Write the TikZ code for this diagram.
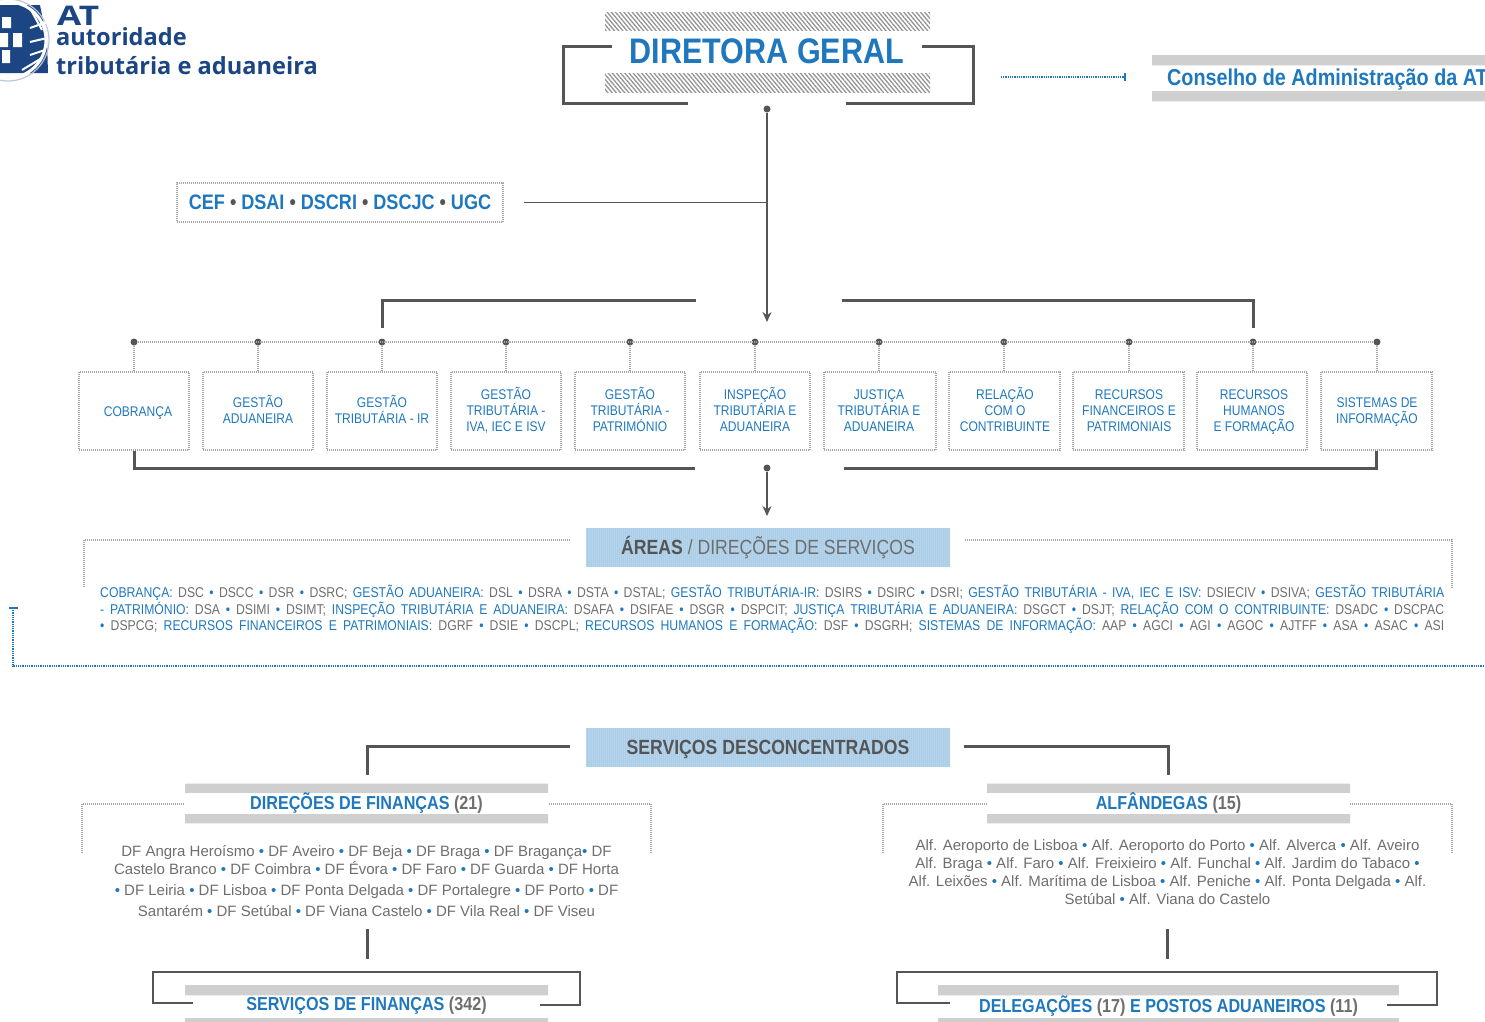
\documentclass[tikz,border=0pt]{standalone}
\usepackage{fontspec}
\usetikzlibrary{patterns.meta,arrows.meta}
\setmainfont{Liberation Sans}
\newfontfamily\narrowfont[FakeStretch=0.86]{Liberation Sans}
\newfontfamily\logofont{Open Sans}
\newfontfamily\logowide[FakeStretch=1.3]{Open Sans}
\definecolor{atblue}{HTML}{1F78BE}
\definecolor{atgray}{HTML}{6E6E6E}
\definecolor{atline}{HTML}{555555}
\definecolor{atnavy}{HTML}{1B4583}
\definecolor{athead}{HTML}{A3C9E6}
\newcommand{\az}[1]{{\color{atblue}#1}}
\newcommand{\pt}{{\color{atblue}\textbullet}}
\tikzset{
    heavy/.style={draw=atline, line width=3pt},
    medium/.style={draw=atline, line width=2pt},
    thin gray/.style={draw=atline, line width=1.4pt},
    tip/.style={-{Stealth[length=10pt,width=9pt]}},
    dotline/.style={draw=gray!70, line width=1.1pt, dash pattern=on 1pt off 1pt},
    blueline/.style={draw=atblue, line width=1.4pt, dash pattern=on 1pt off .8pt},
    title/.style={inner sep=0pt, text=atgray, font=\narrowfont\bfseries\fontsize{18.8}{20}\selectfont},
    hatchband/.style={inner sep=0pt, pattern={Lines[angle=-50,distance=3.2pt,line width=1.3pt]}, pattern color=gray!85},
    dotband/.style={inner sep=0pt, preaction={fill=gray!30}, pattern={Dots[distance=2pt,radius=.6pt]}, pattern color=gray!60},
    headbox/.style={inner sep=0pt, minimum width=364pt, minimum height=39pt, preaction={fill=athead}, pattern={Dots[distance=2pt,radius=.5pt]}, pattern color=white,
        text=atline, font=\narrowfont\bfseries\fontsize{20.5}{22}\selectfont},
    areabox/.style={draw=gray!70, line width=1.1pt, dash pattern=on 1pt off 1pt, inner sep=0pt, minimum height=78pt},
    arealabel/.style={inner sep=0pt, align=center, text=atblue, font=\narrowfont\fontsize{14}{16}\selectfont},
    pin/.style={circle, fill=atline, inner sep=0pt, minimum size=7pt},
    small/.style={inner sep=0pt, text=atgray, font=\narrowfont\fontsize{14.2}{16}\selectfont},
    list/.style={inner sep=0pt, text=atgray, align=center, font=\fontsize{15}{18}\selectfont},
}
\begin{document}
\begin{tikzpicture}[x=1pt,y=-1pt]
    \useasboundingbox (0,0) rectangle (1485,1021);

    % logo
    \begin{scope}
        \clip (0,0) rectangle (52,90);
        \fill[atnavy] (0,5) -- (40,5) -- (47,40) -- (48,73) -- (0,73) -- cycle;
        \draw[white, line width=3pt] (8,40) circle (38);
        \draw[atnavy!30, line width=1.2pt] (8,40) circle (41);
        \fill[white] (2,17) rectangle (11,28) (0,33) rectangle (8,47) (13,33) rectangle (22,47) (2,50) rectangle (10,63);
        \draw[white, line width=2pt] (31,10) -- (42,30) (30,28) -- (47,22) (30,42) -- (47,38) (30,55) -- (45,50) (22,70) -- (42,58);
    \end{scope}
    \node[anchor=base west, inner sep=0pt, text=atnavy, font=\logowide\bfseries\fontsize{27}{27}\selectfont] (logoat) at (57,25) {AT};
    \node[anchor=base west, inner sep=0pt, text=atnavy, font=\logofont\bfseries\fontsize{23.6}{26}\selectfont] (logoa) at (56,45.5) {autoridade};
    \node[anchor=base west, inner sep=0pt, text=atnavy, font=\logofont\bfseries\fontsize{23.6}{26}\selectfont] (logot) at (56,74.5) {tributária e aduaneira};

    % direcao
    \node[hatchband, minimum width=325pt, minimum height=18pt] (dgtop) at (767.5,21) {};
    \node[hatchband, minimum width=325pt, minimum height=19pt] (dgbot) at (767.5,82.5) {};
    \node[inner sep=0pt, text=atblue, font=\narrowfont\bfseries\fontsize{35.5}{38}\selectfont] (dg) at (767,51) {DIRETORA GERAL};
    \coordinate (dga) at (612,46);
    \coordinate (dgb) at (688,103);
    \coordinate (dgc) at (922,46);
    \coordinate (dgd) at (846,103);
    \draw[heavy] (dga) -- (563,46) |- (dgb);
    \draw[heavy] (dgc) -- (973,46) |- (dgd);
    \node[pin] (dgpin) at (767,109) {};
    \coordinate (arrowa) at (767,322);
    \draw[thin gray,tip] (dgpin) -- (arrowa);

    % conselho
    \coordinate (cona) at (1001,77);
    \coordinate (conb) at (1125,77);
    \draw[blueline] (cona) -- (conb);
    \draw[draw=atblue, line width=1.4pt] (1125,73) -- (1125,81);
    \node[dotband, minimum width=333pt, minimum height=10pt, anchor=north west] (contop) at (1152,55) {};
    \node[dotband, minimum width=333pt, minimum height=10pt, anchor=north west] (conbot) at (1152,91) {};
    \node[anchor=west, inner sep=0pt, text=atblue, font=\narrowfont\bfseries\fontsize{23}{25}\selectfont] (con) at (1167,79.5) {Conselho de Administração da AT};

    % apoio
    \node[draw=gray!70, line width=1.1pt, dash pattern=on 1pt off 1pt, minimum width=326pt, minimum height=39pt, inner sep=0pt,
        text=atblue, font=\narrowfont\bfseries\fontsize{21}{25}\selectfont] (cef) at (340,202.5)
        {CEF {\color{atline}\textbullet} DSAI {\color{atline}\textbullet} DSCRI {\color{atline}\textbullet} DSCJC {\color{atline}\textbullet} UGC};
    \draw[thin gray] ([xshift=20pt]cef.east) -- (cef.east -| dgpin);

    % areas
    \coordinate (bla) at (696,300);
    \coordinate (blb) at (382,328);
    \coordinate (bra) at (842,300);
    \coordinate (brb) at (1253,328);
    \draw[heavy] (bla) -| (blb);
    \draw[heavy] (bra) -| (brb);
    \foreach \i/\x/\b/\w/\tx/\ty/\t in {
        1/134/134/110/138/413/COBRANÇA,
        2/258/258/110/258/409/{GESTÃO\\ADUANEIRA},
        3/382/382/110/382/409/{GESTÃO\\TRIBUTÁRIA - IR},
        4/506/506/110/506/410/{GESTÃO\\TRIBUTÁRIA -\\IVA, IEC E ISV},
        5/630/630/110/630/409/{GESTÃO\\TRIBUTÁRIA -\\PATRIMÓNIO},
        6/755/755/110/755/409/{INSPEÇÃO\\TRIBUTÁRIA E\\ADUANEIRA},
        7/879/880/112/879/411/{JUSTIÇA\\TRIBUTÁRIA E\\ADUANEIRA},
        8/1004/1004.5/111/1005/409/{RELAÇÃO\\COM O\\CONTRIBUINTE},
        9/1129/1128.5/111/1129/411/{RECURSOS\\FINANCEIROS E\\PATRIMONIAIS},
        10/1253/1252/110/1254/412/{RECURSOS\\HUMANOS\\E FORMAÇÃO},
        11/1377/1376.5/111/1377/412/{SISTEMAS DE\\INFORMAÇÃO}}
    {
        \node[pin] (p\i) at (\x,342) {};
        \node[areabox, minimum width=\w pt] (a\i) at (\b,411) {};
        \node[arealabel] (t\i) at (\tx,\ty) {\t};
        \draw[dotline] (p\i) -- (p\i |- a\i.north);
    }
    \draw[dotline] (p1) -- (p11);
    \coordinate (bba) at (695,468);
    \coordinate (bbb) at (844,468);
    \draw[heavy] (a1.south) |- (bba);
    \draw[heavy] (a11.south) |- (bbb);
    \node[pin] (apin) at (767,468) {};
    \coordinate (arrowb) at (767,516);
    \draw[thin gray,tip] (apin) -- (arrowb);

    % direcoes de servicos
    \node[headbox] (areas) at (768,547.5) {ÁREAS\textmd{\color{atgray}\ / DIREÇÕES DE SERVIÇOS}};
    \coordinate (afa) at (570,540);
    \coordinate (afb) at (84,587);
    \coordinate (afc) at (965,540);
    \coordinate (afd) at (1452,588);
    \draw[dotline] (afa) -| (afb);
    \draw[dotline] (afc) -| (afd);
    \node[small, anchor=west] (la) at (100,593) {\makebox[1344pt][s]{\az{COBRANÇA:} DSC \pt{} DSCC \pt{} DSR \pt{} DSRC; \az{GESTÃO ADUANEIRA:} DSL \pt{} DSRA \pt{} DSTA \pt{} DSTAL; \az{GESTÃO TRIBUTÁRIA-IR:} DSIRS \pt{} DSIRC \pt{} DSRI; \az{GESTÃO TRIBUTÁRIA - IVA, IEC E ISV:} DSIECIV \pt{} DSIVA; \az{GESTÃO TRIBUTÁRIA}}};
    \node[small, anchor=west] (lb) at (100,609.5) {\makebox[1344pt][s]{\az{- PATRIMÓNIO:} DSA \pt{} DSIMI \pt{} DSIMT; \az{INSPEÇÃO TRIBUTÁRIA E ADUANEIRA:} DSAFA \pt{} DSIFAE \pt{} DSGR \pt{} DSPCIT; \az{JUSTIÇA TRIBUTÁRIA E ADUANEIRA:} DSGCT \pt{} DSJT; \az{RELAÇÃO COM O CONTRIBUINTE:} DSADC \pt{} DSCPAC}};
    \node[small, anchor=west] (lc) at (100,626) {\makebox[1344pt][s]{\pt{} DSPCG; \az{RECURSOS FINANCEIROS E PATRIMONIAIS:} DGRF \pt{} DSIE \pt{} DSCPL; \az{RECURSOS HUMANOS E FORMAÇÃO:} DSF \pt{} DSGRH; \az{SISTEMAS DE INFORMAÇÃO:} AAP \pt{} AGCI \pt{} AGI \pt{} AGOC \pt{} AJTFF \pt{} ASA \pt{} ASAC \pt{} ASI}};

    % ligacao
    \coordinate (lga) at (13,608);
    \coordinate (lgb) at (1485,666);
    \draw[blueline] (lga) |- (lgb);
    \draw[draw=atblue, line width=1.4pt] (9,608) -- (18,608);

    % servicos desconcentrados
    \node[headbox, text depth=0pt] (sd) at (768,747.5) {SERVIÇOS DESCONCENTRADOS};
    \coordinate (sda) at (570,746);
    \coordinate (sdb) at (964,746);
    \coordinate (sdc) at (367,775);
    \coordinate (sdd) at (1168,775);
    \draw[heavy] (sda) -| (sdc);
    \draw[heavy] (sdb) -| (sdd);

    \foreach \n/\x/\w/\t in {
        df/366.5/363/{\az{DIREÇÕES DE FINANÇAS} (21)},
        al/1168.5/363/{\az{ALFÂNDEGAS} (15)}}
    {
        \node[dotband, minimum width=\w pt, minimum height=9pt] (\n top) at (\x,788) {};
        \node[dotband, minimum width=\w pt, minimum height=9pt] (\n bot) at (\x,818.5) {};
        \node[title] (\n) at (\x,803) {\t};
    }
    \foreach \n/\x/\w/\t in {
        sf/366.5/363/{\az{SERVIÇOS DE FINANÇAS} (342)},
        dl/1168.5/461/{\az{DELEGAÇÕES} (17) \az{E POSTOS ADUANEIROS} (11)}}
    {
        \node[dotband, minimum width=\w pt, minimum height=10pt] (\n top) at (\x,990) {};
        \node[dotband, minimum width=\w pt, minimum height=6pt] (\n bot) at (\x,1021) {};
        \node[title] (\n) at (\x,1006) {\t};
    }

    \coordinate (dfa) at (184,804);
    \coordinate (dfb) at (82,853);
    \coordinate (dfc) at (549,804);
    \coordinate (dfd) at (651,853);
    \draw[dotline] (dfa) -| (dfb);
    \draw[dotline] (dfc) -| (dfd);
    \coordinate (ala) at (987,804);
    \coordinate (alb) at (883,853);
    \coordinate (alc) at (1350,804);
    \coordinate (ald) at (1452,853);
    \draw[dotline] (ala) -| (alb);
    \draw[dotline] (alc) -| (ald);

    \node[list] (dflist) at (366.5,881) {DF Angra Heroísmo \pt{} DF Aveiro \pt{} DF Beja \pt{} DF Braga \pt{} DF Bragança\pt{} DF\\[0pt]
        Castelo Branco \pt{} DF Coimbra \pt{} DF Évora \pt{} DF Faro \pt{} DF Guarda \pt{} DF Horta\\[3pt]
        \pt{} DF Leiria \pt{} DF Lisboa \pt{} DF Ponta Delgada \pt{} DF Portalegre \pt{} DF Porto \pt{} DF\\[3pt]
        Santarém \pt{} DF Setúbal \pt{} DF Viana Castelo \pt{} DF Vila Real \pt{} DF Viseu};
    \node[list] (allist) at (1167.5,872.5) {Alf. Aeroporto de Lisboa \pt{} Alf. Aeroporto do Porto \pt{} Alf. Alverca \pt{}\  Alf. Aveiro\\
        Alf. Braga \pt{} Alf. Faro \pt{} Alf. Freixieiro \pt{} Alf. Funchal \pt{}\  Alf. Jardim do Tabaco \pt{}\\
        Alf. Leixões \pt{} Alf. Marítima de Lisboa \pt{} Alf. Peniche \pt{} Alf. Ponta Delgada \pt{} Alf.\\
        Setúbal \pt{} Alf. Viana do Castelo};

    \coordinate (dfe) at (367,929);
    \coordinate (dff) at (367,959);
    \draw[heavy] (dfe) -- (dff);
    \coordinate (ale) at (1167,929);
    \coordinate (alf) at (1167,959);
    \draw[heavy] (ale) -- (alf);

    \coordinate (sfa) at (193,1003);
    \coordinate (sfb) at (540,1005);
    \draw[medium] (sfa) -- (153,1003) |- (580,972) |- (sfb);
    \coordinate (dla) at (950,1003);
    \coordinate (dlb) at (1387,1005);
    \draw[medium] (dla) -- (897,1003) |- (1437,972) |- (dlb);
\end{tikzpicture}
\end{document}
